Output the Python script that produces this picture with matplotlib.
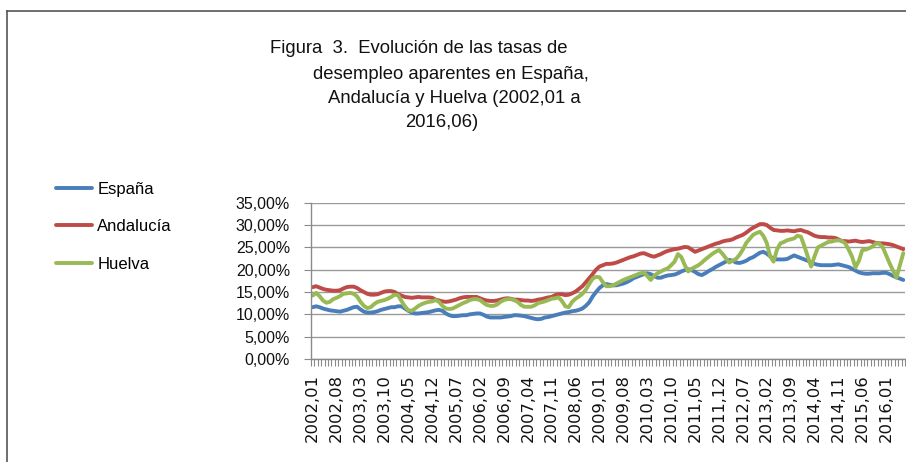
import matplotlib
matplotlib.use("Agg")
import matplotlib.pyplot as plt
from matplotlib.lines import Line2D
from matplotlib.ticker import FixedLocator, FuncFormatter

# ---- data ----
years = list(range(2002, 2017))
months = [f"{y},{m:02d}" for y in years for m in range(1, 13)][:174]

espana = [
    11.6, 11.8, 11.6, 11.3, 11.1, 10.9, 10.8, 10.7, 10.6, 10.8, 11.0, 11.3,
    11.6, 11.7, 11.1, 10.6, 10.4, 10.4, 10.5, 10.7, 11.0, 11.2, 11.4, 11.6,
    11.6, 11.8, 11.8, 11.3, 10.8, 10.4, 10.2, 10.2, 10.3, 10.4, 10.5, 10.7,
    10.9, 11.0, 10.8, 10.2, 9.8, 9.6, 9.6, 9.7, 9.8, 9.8, 10.0, 10.1,
    10.2, 10.2, 9.9, 9.5, 9.3, 9.3, 9.3, 9.3, 9.4, 9.5, 9.6, 9.8,
    9.8, 9.7, 9.6, 9.4, 9.2, 9.0, 8.9, 9.0, 9.3, 9.4, 9.6, 9.8,
    10.0, 10.2, 10.4, 10.5, 10.7, 10.8, 11.0, 11.3, 11.9, 12.7, 14.0, 15.0,
    15.9, 16.5, 16.8, 16.6, 16.5, 16.5, 16.7, 16.9, 17.2, 17.6, 18.1, 18.4,
    18.7, 19.0, 19.2, 19.0, 18.6, 18.2, 18.2, 18.5, 18.7, 18.8, 18.9, 19.2,
    19.6, 19.9, 20.1, 19.9, 19.5, 19.0, 18.8, 19.2, 19.7, 20.1, 20.6, 21.0,
    21.4, 21.8, 22.2, 22.0, 21.6, 21.5, 21.7, 22.0, 22.5, 22.8, 23.3, 23.8,
    24.0, 23.6, 23.0, 22.4, 22.3, 22.3, 22.3, 22.4, 22.8, 23.2, 22.9, 22.6,
    22.3, 22.0, 21.6, 21.3, 21.1, 21.0, 21.0, 21.0, 21.0, 21.1, 21.2, 21.0,
    20.8, 20.6, 20.2, 19.8, 19.4, 19.2, 19.1, 19.1, 19.2, 19.2, 19.2, 19.3,
    19.3, 19.0, 18.6, 18.3, 18.0, 17.7,
]

andalucia = [
    16.1, 16.3, 16.0, 15.7, 15.5, 15.4, 15.3, 15.3, 15.4, 15.8, 16.1, 16.2,
    16.2, 15.9, 15.4, 15.0, 14.6, 14.4, 14.4, 14.5, 14.8, 15.1, 15.2, 15.2,
    15.0, 14.5, 14.2, 13.9, 13.8, 13.7, 13.8, 13.9, 13.8, 13.8, 13.8, 13.7,
    13.3, 13.1, 12.9, 12.8, 12.9, 13.1, 13.3, 13.6, 13.8, 13.9, 13.9, 13.9,
    13.9, 13.6, 13.3, 13.1, 13.0, 13.0, 13.1, 13.3, 13.5, 13.6, 13.5, 13.3,
    13.3, 13.2, 13.1, 13.1, 13.0, 13.1, 13.3, 13.4, 13.6, 13.8, 13.9, 14.3,
    14.5, 14.5, 14.3, 14.4, 14.7, 15.1, 15.7, 16.3, 17.2, 18.1, 19.0, 20.0,
    20.7, 21.0, 21.3, 21.3, 21.4, 21.6, 21.9, 22.2, 22.5, 22.8, 23.0, 23.3,
    23.6, 23.7, 23.4, 23.1, 22.9, 23.2, 23.5, 23.9, 24.2, 24.4, 24.6, 24.7,
    24.9, 25.1, 25.0, 24.5, 24.0, 24.3, 24.6, 24.9, 25.2, 25.5, 25.8, 26.0,
    26.3, 26.5, 26.6, 26.8, 27.2, 27.5, 27.8, 28.3, 28.9, 29.4, 29.8, 30.2,
    30.2, 30.0, 29.4, 28.9, 28.8, 28.7, 28.7, 28.8, 28.7, 28.6, 28.8, 28.9,
    28.6, 28.4, 28.0, 27.6, 27.4, 27.3, 27.3, 27.2, 27.2, 27.1, 26.8, 26.4,
    26.4, 26.3, 26.4, 26.5, 26.3, 26.2, 26.3, 26.4, 26.2, 26.0, 25.9, 25.9,
    25.8, 25.7, 25.5, 25.2, 24.9, 24.6,
]

huelva = [
    14.2, 14.8, 14.1, 13.1, 12.6, 12.8, 13.4, 13.7, 14.1, 14.6, 14.7, 14.8,
    14.6, 14.0, 12.8, 11.9, 11.4, 11.6, 12.3, 12.8, 13.0, 13.2, 13.5, 13.9,
    14.4, 14.3, 13.0, 11.8, 10.9, 10.8, 11.3, 11.9, 12.3, 12.6, 12.8, 12.9,
    13.2, 12.8, 11.9, 11.3, 11.2, 11.3, 11.7, 12.1, 12.5, 12.8, 13.2, 13.4,
    13.4, 13.2, 12.6, 12.1, 11.9, 11.9, 12.2, 12.8, 13.2, 13.4, 13.4, 13.2,
    12.8, 12.1, 11.7, 11.7, 11.7, 12.0, 12.5, 12.7, 12.9, 13.2, 13.5, 13.6,
    13.8, 13.0, 11.8, 11.6, 12.8, 13.5, 14.0, 14.6, 15.5, 16.8, 18.0, 18.4,
    18.3, 17.2, 16.3, 16.3, 16.5, 16.9, 17.3, 17.7, 18.0, 18.3, 18.6, 18.9,
    19.2, 19.3, 18.6, 17.7, 18.6, 19.2, 19.6, 20.0, 20.3, 21.0, 21.8, 23.5,
    22.8, 21.0, 19.6, 20.2, 20.6, 21.0, 21.6, 22.3, 22.9, 23.5, 24.0, 24.4,
    23.6, 22.6, 21.6, 22.0, 22.4, 23.3, 24.5, 26.0, 26.9, 27.8, 28.2, 28.5,
    27.6, 26.0, 23.0, 21.8, 24.5, 25.9, 26.2, 26.6, 26.8, 27.0, 27.6, 27.4,
    25.3, 23.0, 20.7, 23.0, 25.0, 25.4, 25.8, 26.2, 26.3, 26.5, 26.6, 26.4,
    25.9, 24.5, 22.9, 20.5, 22.0, 24.4, 24.5, 24.8, 25.2, 25.9, 25.8, 25.0,
    23.2, 21.4, 19.8, 18.2, 21.0, 23.7,
]

series_names = ["España", "Andalucía", "Huelva"]
series_colors = ["#4A7EBB", "#BE4B48", "#98B954"]
yticks = [0, 5, 10, 15, 20, 25, 30, 35]

title_lines = [
    "Figura  3.  Evolución de las tasas de",
    "desempleo aparentes en España,",
    "Andalucía y Huelva (2002,01 a",
    "2016,06)",
]

# ---- figure ----
W, H = 906, 462
fig = plt.figure(figsize=(W / 100, H / 100), dpi=100)
sans = ["Liberation Sans", "DejaVu Sans"]

ax = fig.add_axes([311 / W, 1 - 359 / H, (905 - 311) / W, (359 - 202.7) / H])
x = list(range(len(months)))
handles = []
for vals, name, col in zip([espana, andalucia, huelva], series_names, series_colors):
    (ln,) = ax.plot(x, vals, color=col, lw=2.8, solid_capstyle="round",
                    solid_joinstyle="round", label=name)
    handles.append(ln)

ax.set_xlim(-0.5, len(months) - 0.5)
ax.set_ylim(0, 35)
ax.yaxis.set_major_locator(FixedLocator(yticks))
ax.yaxis.set_major_formatter(FuncFormatter(lambda v, p: f"{v:.2f}%".replace(".", ",")))
ax.grid(axis="y", color="#9a9a9a", lw=1.0)
ax.set_axisbelow(True)
for s in ["top", "right"]:
    ax.spines[s].set_visible(False)
for s in ["left", "bottom"]:
    ax.spines[s].set_color("#8a8a8a")
    ax.spines[s].set_linewidth(1.0)

major = list(range(0, len(months), 7))
ax.set_xticks(major)
ax.set_xticklabels([months[i] for i in major], rotation=90, fontsize=11.8,
                   family=["DejaVu Sans"], color="#111111")
ax.set_xticks([i - 0.5 for i in range(len(months) + 1)], minor=True)
ax.tick_params(axis="x", which="major", length=0, pad=11)
ax.tick_params(axis="x", which="minor", length=5, color="#8a8a8a", width=0.8)
ax.tick_params(axis="y", length=5, color="#8a8a8a", pad=10)
for lab in ax.get_yticklabels():
    lab.set_fontsize(11.5)
    lab.set_family(sans)
    lab.set_color("#111111")

# legend
fig.legend(handles=handles, loc="upper left", bbox_to_anchor=(49 / W, 1 - 175 / H),
           frameon=False, prop={"family": sans, "size": 12}, handlelength=2.2,
           handletextpad=0.3, labelspacing=1.35, borderaxespad=0)

# title
title_pos = [(418.7, 53), (450.5, 79), (454, 103), (442, 127)]
for txt, (cx, by) in zip(title_lines, title_pos):
    fig.text(cx / W, 1 - by / H, txt, ha="center", va="baseline",
             family=sans, fontsize=13.3, color="#111111")

# outer frame of the pasted chart
fig.add_artist(Line2D([7 / W, 7 / W], [0, 1 - 11 / H], transform=fig.transFigure,
                      color="#555555", lw=1.2))
fig.add_artist(Line2D([7 / W, 1], [1 - 11 / H, 1 - 11 / H], transform=fig.transFigure,
                      color="#555555", lw=1.2))

fig.savefig("out.png", dpi=100)
